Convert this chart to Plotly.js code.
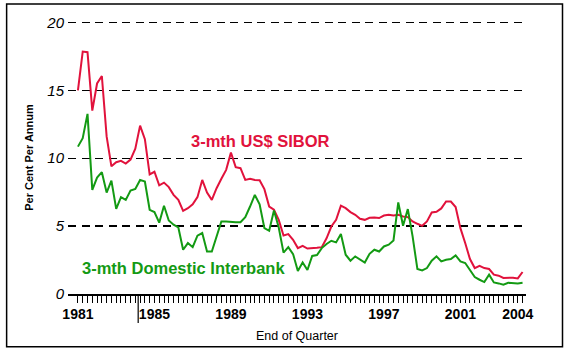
<!DOCTYPE html>
<html>
<head>
<meta charset="utf-8">
<script src="https://cdn.plot.ly/plotly-3.0.1.min.js"></script>
<style>html,body{margin:0;padding:0;background:#fff;}#chart{width:573px;height:360px;}</style>
</head>
<body>
<div id="chart"></div>
<script>
// Quarterly data, end of quarter, 1981 Q1 to 2004 Q2
const startYear = 1981;
const sibor = [
  15.0, 17.85, 17.8, 13.5, 15.5, 16.05, 11.6, 9.4, 9.7, 9.8,
  9.6, 9.9, 10.7, 12.4, 11.4, 8.8, 9.0, 8.0, 8.2, 7.87,
  7.3, 6.93, 6.12, 6.32, 6.6, 7.13, 8.4, 7.47, 6.93, 7.79,
  8.48, 9.14, 10.41, 9.34, 9.26, 8.4, 8.48, 8.4, 8.38, 7.72,
  6.44, 6.2, 5.46, 4.31, 4.41, 3.99, 3.38, 3.55, 3.35, 3.35,
  3.4, 3.45, 4.1, 4.97, 5.46, 6.5, 6.32, 6.03, 5.83, 5.54,
  5.46, 5.61, 5.63, 5.59, 5.78, 5.83, 5.78, 5.83, 5.71, 5.66,
  5.34, 5.17, 5.02, 5.34, 6.0, 6.05, 6.3, 6.81, 6.81, 6.4,
  4.85, 3.75, 2.57, 1.91, 2.08, 1.91, 1.84, 1.42, 1.35, 1.18,
  1.2, 1.2, 1.15, 1.62
];
const interbank = [
  10.85, 11.47, 13.26, 7.67, 8.57, 8.97, 7.47, 8.35, 6.27, 7.13,
  6.93, 7.62, 7.74, 8.4, 8.28, 6.2, 6.03, 5.25, 6.5, 5.41,
  5.1, 4.9, 3.26, 3.75, 3.45, 4.29, 4.49, 3.13, 3.13, 4.24,
  5.34, 5.34, 5.29, 5.29, 5.29, 5.66, 6.44, 7.3, 6.6, 4.85,
  4.65, 6.15, 4.9, 3.05, 3.45, 2.94, 1.7, 2.33, 1.77, 2.8,
  2.87, 3.38, 3.68, 3.92, 3.8, 4.41, 2.89, 2.45, 2.77, 2.57,
  2.32, 2.96, 3.26, 3.13, 3.5, 3.63, 3.94, 6.74, 5.02, 6.25,
  4.24, 1.84, 1.74, 1.91, 2.45, 2.77, 2.4, 2.52, 2.57, 2.84,
  2.4, 2.28, 1.79, 1.25, 1.05, 0.88, 1.42, 0.85, 0.78, 0.68,
  0.83, 0.78, 0.78, 0.83
];
const labelYears = [1981, 1985, 1989, 1993, 1997, 2001, 2004];
const yTicks = [0, 5, 10, 15, 20];
const siborLabel = "3-mth US$ SIBOR";
const interbankLabel = "3-mth Domestic Interbank";
const xTitle = "End of Quarter";
const yTitle = "Per Cent Per Annum";

const xs = sibor.map((_, i) => startYear + i / 4);
const tickText = xs.map(x => (Number.isInteger(x) && labelYears.includes(x)) ? String(x) : "");

const FONT = "Arial, 'Liberation Sans', sans-serif";
const RED = "#e1123c";
const GREEN = "#139a13";

const traces = [
  {x: xs, y: sibor, type: "scatter", mode: "lines", line: {color: RED, width: 2}, hoverinfo: "skip"},
  {x: xs, y: interbank, type: "scatter", mode: "lines", line: {color: GREEN, width: 2}, hoverinfo: "skip"}
];

const layout = {
  width: 573, height: 360,
  margin: {l: 68, r: 47, t: 21, b: 66},
  paper_bgcolor: "#fff", plot_bgcolor: "#fff",
  showlegend: false,
  font: {family: FONT, color: "#000"},
  xaxis: {
    range: [1980.48, 2004.43],
    tickmode: "array", tickvals: xs, ticktext: tickText,
    ticks: "outside", ticklen: 7, tickwidth: 1, tickcolor: "#000",
    showgrid: false, zeroline: false,
    showline: true, linecolor: "#000", linewidth: 1.5,
    tickfont: {family: FONT, size: 14, weight: "bold", color: "#000"},
    title: {text: xTitle, font: {family: FONT, size: 12.5, color: "#000"}, standoff: 10}
  },
  yaxis: {
    range: [0, 20.1],
    tickmode: "array", tickvals: yTicks,
    ticks: "", showline: false, zeroline: false,
    showgrid: true, gridcolor: "#000", gridwidth: 1.2, griddash: "8px,5.5px",
    tickfont: {family: FONT, size: 15, style: "italic", color: "#000"},
    ticklabelstandoff: 3,
    title: {text: yTitle, font: {family: FONT, size: 11, weight: "bold", color: "#000"}, standoff: 10}
  },
  annotations: [
    {x: 1990.52, y: 11.27, xref: "x", yref: "y", text: siborLabel, showarrow: false,
     xanchor: "center", yanchor: "middle", font: {family: FONT, size: 16.5, weight: "bold", color: RED}},
    {x: 1981.1, y: 1.93, xref: "x", yref: "y", text: interbankLabel, showarrow: false,
     xanchor: "left", yanchor: "middle", font: {family: FONT, size: 16.5, weight: "bold", color: GREEN}}
  ],
  shapes: [
    {type: "rect", xref: "paper", yref: "paper", x0: -0.134, x1: 1.0797, y0: -0.1931, y1: 1.0625,
     line: {color: "#000", width: 1.5}, fillcolor: "rgba(0,0,0,0)", layer: "below"},
    {type: "line", xref: "x", yref: "paper", x0: 1984.15, x1: 1984.15, y0: -0.106, y1: 0,
     line: {color: "#000", width: 1.2}}
  ]
};

Plotly.newPlot("chart", traces, layout, {staticPlot: true, displayModeBar: false});
</script>
</body>
</html>
